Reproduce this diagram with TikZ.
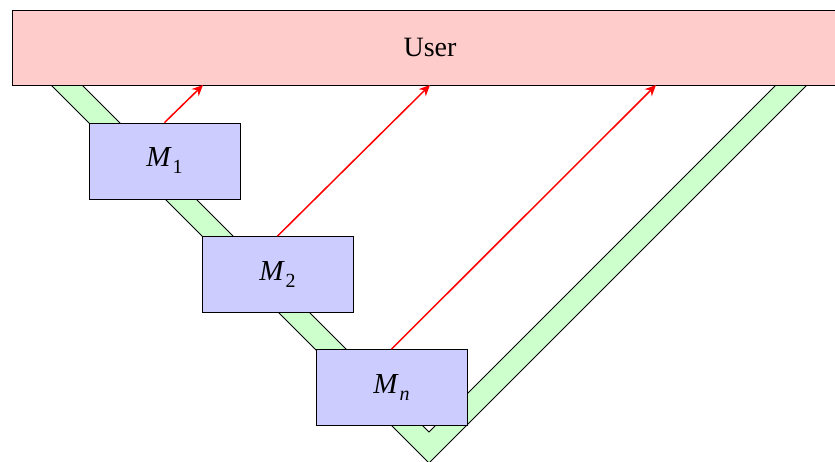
\documentclass[tikz,border=0pt]{standalone}
\usepackage{fontspec}
\setmainfont{Liberation Serif}
\usetikzlibrary{arrows.meta}
\newcommand\modlabel[1]{\textit{M}\kern1pt\raisebox{-7pt}{\fontsize{20}{22}\selectfont #1}}
\tikzset{
  blk/.style={draw=black, line width=0.8pt},
  userbox/.style={blk, fill=red!20, minimum width=836pt, minimum height=75pt, inner sep=0pt, font=\fontsize{28}{32}\selectfont},
  modbox/.style={blk, fill=blue!20, minimum width=151pt, minimum height=76pt, inner sep=0pt, font=\fontsize{29}{32}\selectfont},
  band/.style={blk, fill=green!20},
  feed/.style={red, line width=1.5pt, -{Stealth[length=11pt,width=10pt]}}
}
\begin{document}
\begin{tikzpicture}[x=1pt,y=-1pt]
\useasboundingbox (0,0) rectangle (835,462);
\draw[band] (51,85) -- (429,463) -- (807,85) -- (776,85) -- (429,432) -- (82,85) -- cycle;
\node[userbox] (user) at (430,47.5) {User};
\node[modbox] (m1) at (164.5,161) {\modlabel{1}};
\node[modbox] (m2) at (277.5,274.5) {\modlabel{2}};
\node[modbox] (mn) at (391.5,387.5) {\modlabel{\textit{n}}};
\coordinate (a1) at (203,85);
\coordinate (a2) at (430,85);
\coordinate (a3) at (656,85);
\draw[feed] (m1.north) -- (a1);
\draw[feed] (m2.north) -- (a2);
\draw[feed] (mn.north) -- (a3);
\end{tikzpicture}
\end{document}
